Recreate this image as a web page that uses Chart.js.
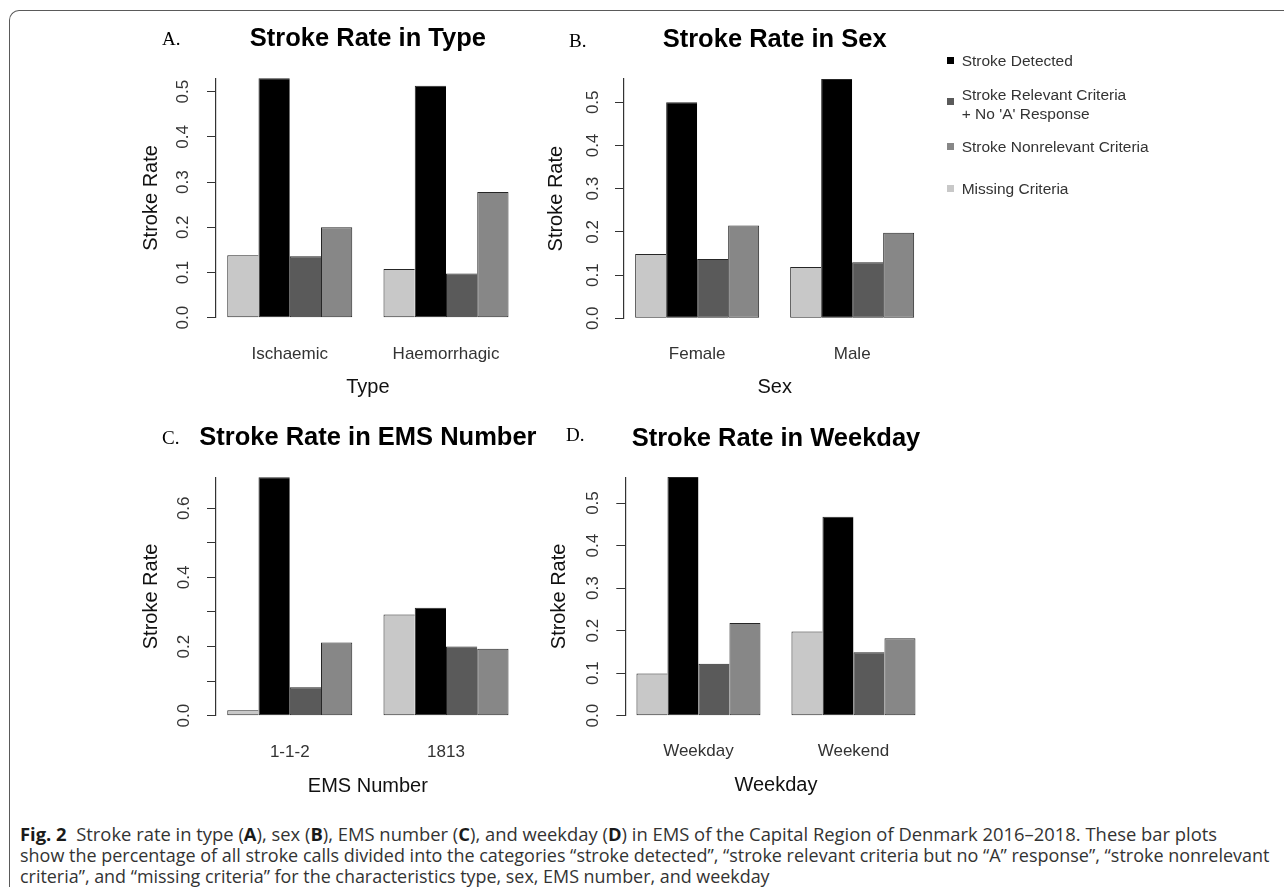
<!DOCTYPE html>
<html>
<head>
<meta charset="utf-8">
<title>Stroke rate bar plots</title>
<script src="https://cdn.jsdelivr.net/npm/chart.js@4.4.1/dist/chart.umd.min.js"></script>
<style>
  html, body { margin: 0; padding: 0; background: #fff; }
  body { width: 1284px; height: 887px; position: relative; overflow: hidden;
         font-family: "Liberation Sans", Arial, Helvetica, sans-serif; }
  canvas { position: absolute; }
  #frame { position: absolute; left: 9.25px; top: 10.25px; width: 1320px; height: 920px;
           border-top: 1.5px solid #5a5a5a; border-left: 1.5px solid #5a5a5a;
           border-top-left-radius: 10px; box-sizing: border-box; }
  .lg-box { position: absolute; width: 7px; height: 7px; }
  .lg-text { position: absolute; font-size: 15.5px; line-height: 19px; color: #333; white-space: pre; }
  .cap { position: absolute; left: 20px; white-space: nowrap; font-family: "Open Sans", sans-serif;
         font-size: 17.5px; line-height: 22px; color: #333; transform-origin: 0 0; }
  .cap b { color: #1a1a1a; font-weight: 700; }
</style>
</head>
<body>
<div id="frame"></div>
<canvas id="chartA"></canvas>
<canvas id="chartB"></canvas>
<canvas id="chartC"></canvas>
<canvas id="chartD"></canvas>
<div id="legend"></div>
<div class="cap" id="cap1"><b>Fig. 2</b>&nbsp; Stroke rate in type (<b>A</b>), sex (<b>B</b>), EMS number (<b>C</b>), and weekday (<b>D</b>) in EMS of the Capital Region of Denmark 2016–2018. These bar plots</div>
<div class="cap" id="cap2">show the percentage of all stroke calls divided into the categories “stroke detected”, “stroke relevant criteria but no “A” response”, “stroke nonrelevant</div>
<div class="cap" id="cap3">criteria”, and “missing criteria” for the characteristics type, sex, EMS number, and weekday</div>

<script>
// ---- series (drawn left to right inside each group) ----
const seriesNames = ['Missing Criteria', 'Stroke Detected', "Stroke Relevant Criteria\n+ No 'A' Response", 'Stroke Nonrelevant Criteria'];
const seriesColors = ['#c8c8c8', '#000000', '#5a5a5a', '#878787'];
const legendOrder = [1, 2, 3, 0];

// ---- A: stroke type ----
const typeCategories = ['Ischaemic', 'Haemorrhagic'];
const typeMissing     = [0.138, 0.108];
const typeDetected    = [0.530, 0.513];
const typeRelevant    = [0.136, 0.098];
const typeNonrelevant = [0.200, 0.278];

// ---- B: sex ----
const sexCategories = ['Female', 'Male'];
const sexMissing     = [0.149, 0.119];
const sexDetected    = [0.500, 0.554];
const sexRelevant    = [0.137, 0.130];
const sexNonrelevant = [0.215, 0.198];

// ---- C: EMS number ----
const emsCategories = ['1-1-2', '1813'];
const emsMissing     = [0.016, 0.293];
const emsDetected    = [0.690, 0.312];
const emsRelevant    = [0.082, 0.200];
const emsNonrelevant = [0.212, 0.194];

// ---- D: weekday ----
const dayCategories = ['Weekday', 'Weekend'];
const dayMissing     = [0.099, 0.198];
const dayDetected    = [0.561, 0.468];
const dayRelevant    = [0.122, 0.149];
const dayNonrelevant = [0.218, 0.182];

// Bar-plot x layout in bar-width units: one empty bar before each group of four,
// range padded by 4% on both sides.
const X_MIN = 0.64, X_MAX = 10.36;
const groupCenters = [3, 8];

Chart.defaults.font.family = '"Liberation Sans", Arial, Helvetica, sans-serif';

// Panel letter and bold heading above each plot
const panelHeading = {
  id: 'panelHeading',
  afterDraw(chart, args, opts) {
    const { ctx, chartArea } = chart;
    ctx.save();
    ctx.fillStyle = '#000';
    ctx.textBaseline = 'alphabetic';
    ctx.textAlign = 'left';
    ctx.font = '19px "Liberation Serif", "Times New Roman", serif';
    ctx.fillText(opts.letter, opts.letterX, opts.letterY);
    ctx.textAlign = 'center';
    ctx.font = 'bold 25.5px "Liberation Sans", Arial, sans-serif';
    ctx.fillText(opts.title, (chartArea.left + chartArea.right) / 2, opts.titleY);
    ctx.restore();
  }
};

const panels = [
  { id: 'chartA', letter: 'A.', title: 'Stroke Rate in Type', xTitle: 'Type', categories: typeCategories,
    values: [typeMissing, typeDetected, typeRelevant, typeNonrelevant], labelEvery: 1,
    box: { left: 110, top: 0, width: 440, height: 400 },
    plot: { left: 216, bottom: 317.7, unit: 452, bar: 31.25 },
    letterX: 162, letterY: 45, titleY: 45.5, yTitleX: 151.7, yTickX: 183.8, xTickY: 346, xTitleY: 387 },
  { id: 'chartB', letter: 'B.', title: 'Stroke Rate in Sex', xTitle: 'Sex', categories: sexCategories,
    values: [sexMissing, sexDetected, sexRelevant, sexNonrelevant], labelEvery: 1,
    box: { left: 525, top: 0, width: 420, height: 400 },
    plot: { left: 624, bottom: 318.3, unit: 432, bar: 31 },
    letterX: 569, letterY: 47, titleY: 46.5, yTitleX: 556.7, yTickX: 593.7, xTickY: 346, xTitleY: 387.5 },
  { id: 'chartC', letter: 'C.', title: 'Stroke Rate in EMS Number', xTitle: 'EMS Number', categories: emsCategories,
    values: [emsMissing, emsDetected, emsRelevant, emsNonrelevant], labelEvery: 2,
    box: { left: 110, top: 400, width: 450, height: 400 },
    plot: { left: 216, bottom: 715.7, unit: 345.7, bar: 31.25 },
    letterX: 162, letterY: 443.5, titleY: 445, yTitleX: 151.7, yTickX: 184.7, xTickY: 744.5, xTitleY: 786.5 },
  { id: 'chartD', letter: 'D.', title: 'Stroke Rate in Weekday', xTitle: 'Weekday', categories: dayCategories,
    values: [dayMissing, dayDetected, dayRelevant, dayNonrelevant], labelEvery: 1,
    box: { left: 525, top: 400, width: 420, height: 400 },
    plot: { left: 625.3, bottom: 715.7, unit: 425.3, bar: 31 },
    letterX: 566, letterY: 441, titleY: 445.5, yTitleX: 559.3, yTickX: 593.3, xTickY: 743.5, xTitleY: 785.5 }
];

function buildPanel(p) {
  const box = p.box;
  const canvas = document.getElementById(p.id);
  canvas.width = box.width; canvas.height = box.height;
  canvas.style.left = box.left + 'px'; canvas.style.top = box.top + 'px';
  canvas.style.width = box.width + 'px'; canvas.style.height = box.height + 'px';

  const ymax = Math.max(...p.values.flat());
  const plotTop = p.plot.bottom - ymax * p.plot.unit;
  const plotRight = p.plot.left + (X_MAX - X_MIN) * p.plot.bar;
  const tickFont = 17, tickLen = 9;
  const labelHalf = 11.8; // half the width of a "0.0"-style label at 17px

  new Chart(canvas, {
    type: 'bar',
    data: {
      datasets: p.values.map((vals, s) => ({
        label: seriesNames[s],
        data: vals.map((v, i) => ({ x: groupCenters[i], y: v })),
        backgroundColor: seriesColors[s],
        borderColor: '#262626',
        borderWidth: s === p.values.length - 1 ? 1 : { top: 1, left: 1, bottom: 1, right: 0 },
        borderSkipped: false,
        barPercentage: 1,
        categoryPercentage: 0.8,
        clip: false
      }))
    },
    options: {
      responsive: false,
      animation: false,
      events: [],
      layout: { padding: { left: 0, top: plotTop - box.top, right: box.left + box.width - plotRight, bottom: 0 } },
      plugins: {
        legend: { display: false },
        tooltip: { enabled: false },
        panelHeading: { letter: p.letter, title: p.title,
          letterX: p.letterX - box.left, letterY: p.letterY - box.top, titleY: p.titleY - box.top }
      },
      scales: {
        x: {
          type: 'linear', min: X_MIN, max: X_MAX, offset: false,
          afterBuildTicks: s => { s.ticks = groupCenters.map(v => ({ value: v })); },
          afterFit: s => { s.height = box.top + box.height - p.plot.bottom; },
          grid: { display: false, offset: false },
          border: { display: false },
          ticks: {
            autoSkip: false, maxRotation: 0, minRotation: 0,
            callback: (v, i) => p.categories[i],
            font: { size: tickFont }, color: '#333',
            padding: p.xTickY - p.plot.bottom - tickFont * 0.6
          },
          title: { display: true, text: p.xTitle, font: { size: 20 }, color: '#111',
                   padding: { top: 0, bottom: box.top + box.height - p.xTitleY - 12 } }
        },
        y: {
          min: 0, max: ymax,
          afterFit: s => { s.width = p.plot.left - box.left; },
          ticks: {
            stepSize: 0.1, includeBounds: false, autoSkip: false,
            minRotation: 90, maxRotation: 90, crossAlign: 'center',
            padding: p.plot.left - p.yTickX - tickLen - labelHalf,
            font: { size: tickFont }, color: '#333',
            callback: (v, i) => (i % p.labelEvery === 0 ? v.toFixed(1) : '')
          },
          grid: { drawOnChartArea: false, drawTicks: true, tickLength: tickLen, color: '#333', tickColor: '#333', lineWidth: 1 },
          border: { display: true, color: '#333', width: 1.2 },
          title: { display: true, text: 'Stroke Rate', font: { size: 20 }, color: '#111',
                   padding: { top: p.yTitleX - box.left - 12, bottom: 0 } }
        }
      }
    },
    plugins: [panelHeading]
  });
}

panels.forEach(buildPanel);

// ---- legend (right of panel B) ----
const legendSquareY = [60, 101.7, 146.7, 188.3];
const legendTextY   = [60, 94.3, 146.7, 188.3];
const legendEl = document.getElementById('legend');
legendOrder.forEach((s, k) => {
  const sq = document.createElement('div');
  sq.className = 'lg-box';
  sq.style.left = '947px';
  sq.style.top = (legendSquareY[k] - 3.5) + 'px';
  sq.style.background = seriesColors[s];
  legendEl.appendChild(sq);
  const tx = document.createElement('div');
  tx.className = 'lg-text';
  tx.style.left = '961.7px';
  tx.style.top = (legendTextY[k] - 9.5) + 'px';
  tx.textContent = seriesNames[s];
  legendEl.appendChild(tx);
});

// ---- caption lines: vertical placement and fitted widths ----
const captionLines = [
  { id: 'cap1', top: 822.5, width: 1197 },
  { id: 'cap2', top: 843.5, width: 1249 },
  { id: 'cap3', top: 864.5, width: 750 }
];
function fitCaption() {
  captionLines.forEach(c => {
    const el = document.getElementById(c.id);
    el.style.top = c.top + 'px';
    el.style.transform = 'none';
    const w = el.scrollWidth;
    if (w > 0) el.style.transform = 'scaleX(' + (c.width / w) + ')';
  });
}
fitCaption();
if (document.fonts && document.fonts.ready) document.fonts.ready.then(fitCaption);
</script>
</body>
</html>
